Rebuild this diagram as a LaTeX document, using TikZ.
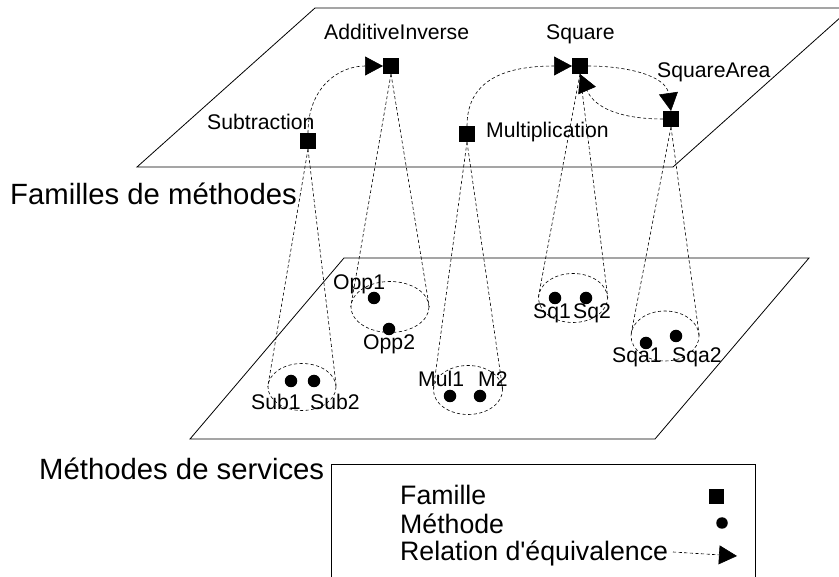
\documentclass[tikz,border=0pt]{standalone}
\usepackage{fontspec}
\newfontfamily\arialf{Liberation Sans}
\usetikzlibrary{arrows.meta,shapes.geometric}
\begin{document}
\begin{tikzpicture}[x=1pt,y=-1pt,
  fam/.style={fill=black,minimum size=16pt,inner sep=0pt,outer sep=0pt},
  meth/.style={circle,fill=black,minimum size=12.5pt,inner sep=0pt},
  dsh/.style={dash pattern=on 3.2pt off 2.4pt,line width=0.6pt},
  grp/.style={ellipse,draw,dsh,inner sep=0pt},
  lbl/.style={anchor=base west,inner sep=0pt,font=\arialf\fontsize{21.2}{25}\selectfont},
  big/.style={anchor=base west,inner sep=0pt,font=\arialf\fontsize{29.3}{34}\selectfont},
  leg/.style={anchor=base west,inner sep=0pt,font=\arialf\fontsize{26.7}{32}\selectfont},
  eqv/.style={dsh,-{Triangle[length=18pt,width=19pt]}},
  plane/.style={line width=0.8pt}
]
\useasboundingbox (0,0) rectangle (839,577);
\clip (0,0) rectangle (839,577);

% planes
\draw[plane] (315,8) -- (851,8) -- (673,167) -- (137,167) -- cycle;
\draw[plane] (344,258) -- (809,258) -- (655,439) -- (190,439) -- cycle;

% legend frame
\draw[plane] (331,600) -- (331,464) -- (755,464) -- (755,600);

% families
\node[fam] (sub) at (308,141) {};
\node[fam] (addinv) at (391,66) {};
\node[fam] (mul) at (467,134) {};
\node[fam] (sq) at (580,66) {};
\node[fam] (sqa) at (671,119) {};

% groups
\node[grp,minimum width=68pt,minimum height=47pt] (subE) at (302,387) {};
\node[grp,minimum width=78pt,minimum height=51pt] (oppE) at (390,307) {};
\node[grp,minimum width=69pt,minimum height=49pt] (mulE) at (468,390) {};
\node[grp,minimum width=69pt,minimum height=49pt] (sqE) at (573,298) {};
\node[grp,minimum width=68pt,minimum height=50pt] (sqaE) at (665,336) {};

% methods
\node[meth] (m_sub1) at (291,381) {};
\node[meth] (m_sub2) at (314,381) {};
\node[meth] (m_opp1) at (374,298) {};
\node[meth] (m_opp2) at (389,329) {};
\node[meth] (m_mul1) at (450,396) {};
\node[meth] (m_m2) at (480,396) {};
\node[meth] (m_sq1) at (555,298) {};
\node[meth] (m_sq2) at (586,298) {};
\node[meth] (m_sqa1) at (646,343) {};
\node[meth] (m_sqa2) at (676,336) {};

% cones
\draw[dsh] (sub.south) -- (subE.west);
\draw[dsh] (sub.south) -- (subE.east);
\draw[dsh] (addinv.south) -- (oppE.west);
\draw[dsh] (addinv.south) -- (oppE.east);
\draw[dsh] (mul.south) -- (mulE.west);
\draw[dsh] (mul.south) -- (mulE.east);
\draw[dsh] (sq.south) -- (sqE.west);
\draw[dsh] (sq.south) -- (sqE.east);
\draw[dsh] (sqa.south) -- (sqaE.west);
\draw[dsh] (sqa.south) -- (sqaE.east);

% equivalence relations
\draw[eqv] (sub.north) .. controls +(0,-45) and +(-45,0) .. (addinv.west);
\draw[eqv] (mul.north) .. controls +(0,-50) and +(-60,0) .. (sq.west);
\draw[eqv] (sq.east) .. controls +(40,0) and +(-5,-35) .. (sqa.north);
\draw[eqv] (sqa.west) .. controls +(-40,0) and +(15,35) .. (sq.south);

% labels
\node[lbl] (l_addinv) at (324,40) {AdditiveInverse};
\node[lbl] (l_sq) at (546,40) {Square};
\node[lbl] (l_sub) at (207,130) {Subtraction};
\node[lbl] (l_mul) at (486,138) {Multiplication};
\node[lbl] (l_sqa) at (657,78) {SquareArea};
\node[lbl] (l_opp1) at (333,290) {Opp1};
\node[lbl] (l_opp2) at (363,350) {Opp2};
\node[lbl] (l_sub1) at (251,410) {Sub1};
\node[lbl] (l_sub2) at (310,410) {Sub2};
\node[lbl] (l_mul1) at (418,387) {Mul1};
\node[lbl] (l_m2) at (478,387) {M2};
\node[lbl] (l_sq1) at (533,319) {Sq1};
\node[lbl] (l_sq2) at (573,319) {Sq2};
\node[lbl] (l_sqa1) at (612,363) {Sqa1};
\node[lbl] (l_sqa2) at (672,363) {Sqa2};

\node[big] (t_fam) at (10,205) {Familles de méthodes};
\node[big] (t_meth) at (39,480) {Méthodes de services};

% legend
\node[leg] (lg1) at (400,505) {Famille};
\node[leg] (lg2) at (400,533) {Méthode};
\node[leg] (lg3) at (400,561) {Relation d'équivalence};
\node[fill=black,minimum size=15pt,inner sep=0pt] (lgsq) at (716,497) {};
\node[meth,minimum size=11.5pt] (lgdot) at (722,523) {};
\coordinate (lga) at (673,552);
\coordinate (lgb) at (737,556);
\draw[eqv] (lga) -- (lgb);
\end{tikzpicture}
\end{document}
